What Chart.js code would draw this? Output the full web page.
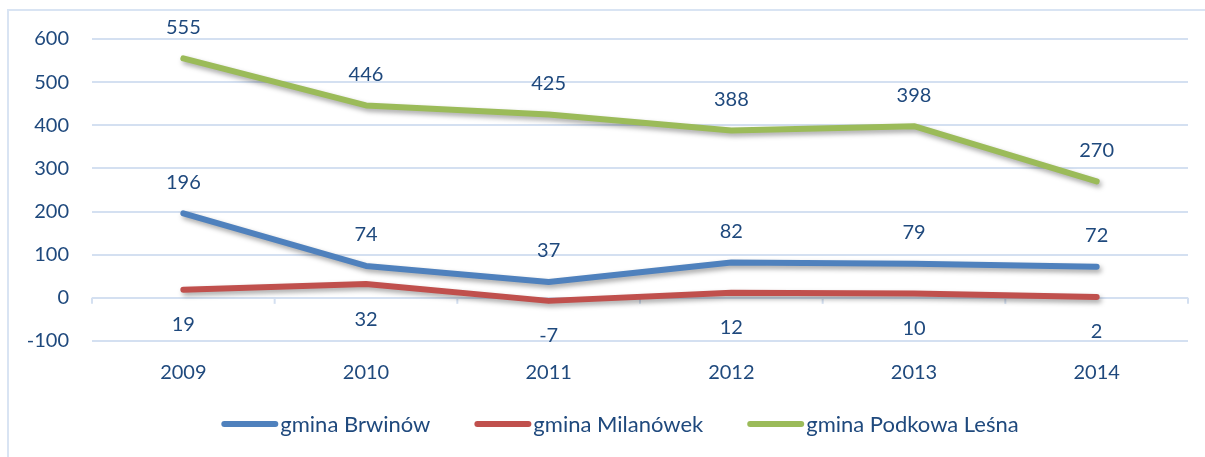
<!DOCTYPE html>
<html>
<head>
<meta charset="utf-8">
<script src="https://cdn.jsdelivr.net/npm/chart.js@4"></script>
<style>
  html, body { margin: 0; padding: 0; background: #fff; }
  #wrap { width: 1205px; height: 457px; }
</style>
</head>
<body>
<div id="wrap"><canvas id="lineChart"></canvas></div>
<script>
// dane
var years = ["2009", "2010", "2011", "2012", "2013", "2014"];
var brwinow = [196, 74, 37, 82, 79, 72];
var milanowek = [19, 32, -7, 12, 10, 2];
var podkowa = [555, 446, 425, 388, 398, 270];
var yTicks = [-100, 0, 100, 200, 300, 400, 500, 600];

var textColor = "#1F497D";
var gridColor = "#D4E0F1";
var fontFamily = "Lato, 'Open Sans', sans-serif";

// ramka, kreski osi przy zerze, cień linii
var framePlugin = {
  id: "frame",
  beforeDraw: function (chart) {
    var ctx = chart.ctx;
    ctx.save();
    ctx.strokeStyle = "#D9E4F3";
    ctx.lineWidth = 2;
    ctx.beginPath();
    ctx.moveTo(8, chart.height + 5);
    ctx.lineTo(8, 10);
    ctx.lineTo(chart.width + 5, 10);
    ctx.stroke();
    ctx.restore();
  },
  beforeDatasetsDraw: function (chart) {
    var ctx = chart.ctx;
    var x = chart.scales.x;
    var y0 = chart.scales.y.getPixelForValue(0);
    var half = (x.getPixelForValue(1) - x.getPixelForValue(0)) / 2;
    ctx.save();
    ctx.strokeStyle = gridColor;
    ctx.lineWidth = 2;
    for (var i = 0; i <= years.length; i++) {
      var px = x.getPixelForValue(i) - half;
      ctx.beginPath();
      ctx.moveTo(px, y0);
      ctx.lineTo(px, y0 + 6);
      ctx.stroke();
    }
    ctx.restore();
  },
  beforeDatasetDraw: function (chart) {
    var ctx = chart.ctx;
    ctx.save();
    ctx.shadowColor = "rgba(0, 0, 0, 0.35)";
    ctx.shadowBlur = 5;
    ctx.shadowOffsetX = 2;
    ctx.shadowOffsetY = 3;
  },
  afterDatasetDraw: function (chart) {
    chart.ctx.restore();
  },
};

// etykiety wartości
var labelsPlugin = {
  id: "valueLabels",
  afterDatasetsDraw: function (chart) {
    var ctx = chart.ctx;
    ctx.save();
    ctx.font = "20px " + fontFamily;
    ctx.fillStyle = textColor;
    ctx.textAlign = "center";
    ctx.textBaseline = "middle";
    chart.data.datasets.forEach(function (ds, di) {
      var meta = chart.getDatasetMeta(di);
      meta.data.forEach(function (pt, i) {
        var off = ds.labelBelow ? 35 : -31;
        ctx.fillText(String(ds.data[i]), pt.x, pt.y + off);
      });
    });
    ctx.restore();
  },
};

// legenda
var legendPlugin = {
  id: "customLegend",
  afterDraw: function (chart) {
    var ctx = chart.ctx;
    var boxW = 57, boxH = 6, gapText = 2, gapItem = 44;
    ctx.save();
    ctx.font = "22px " + fontFamily;
    var total = 0;
    var widths = chart.data.datasets.map(function (ds) {
      var w = boxW + gapText + ctx.measureText(ds.label).width;
      total += w;
      return w;
    });
    total += gapItem * (widths.length - 1);
    var x = 620 - total / 2;
    var yc = 424;
    chart.data.datasets.forEach(function (ds, i) {
      ctx.strokeStyle = ds.borderColor;
      ctx.lineWidth = boxH;
      ctx.lineCap = "round";
      ctx.beginPath();
      ctx.moveTo(x + boxH / 2, yc);
      ctx.lineTo(x + boxW - boxH / 2, yc);
      ctx.stroke();
      ctx.fillStyle = textColor;
      ctx.textBaseline = "middle";
      ctx.textAlign = "left";
      ctx.fillText(ds.label, x + boxW + gapText, yc + 1);
      x += widths[i] + gapItem;
    });
    ctx.restore();
  },
};

var ctx = document.getElementById("lineChart").getContext("2d");
var lineChart = new Chart(ctx, {
  type: "line",
  data: {
    labels: years,
    datasets: [
      {
        label: "gmina Brwinów",
        data: brwinow,
        borderColor: "#4F81BD",
        labelBelow: false,
      },
      {
        label: "gmina Milanówek",
        data: milanowek,
        borderColor: "#C0504D",
        labelBelow: true,
      },
      {
        label: "gmina Podkowa Leśna",
        data: podkowa,
        borderColor: "#9BBB59",
        labelBelow: false,
      },
    ],
  },
  options: {
    responsive: true,
    maintainAspectRatio: false,
    animation: false,
    devicePixelRatio: 1,
    layout: {
      padding: { top: 39, right: 17, bottom: 0, left: 0 },
    },
    elements: {
      line: {
        borderWidth: 6,
        tension: 0,
        borderCapStyle: "round",
        borderJoinStyle: "round",
        fill: false,
      },
      point: { radius: 0, hoverRadius: 0 },
    },
    plugins: {
      legend: { display: false },
      tooltip: { enabled: false },
    },
    scales: {
      x: {
        offset: true,
        grid: { display: false, drawTicks: false },
        border: { display: false },
        ticks: {
          color: textColor,
          font: { family: fontFamily, size: 20 },
          padding: 20,
        },
        afterFit: function (scale) {
          scale.height = 116;
        },
      },
      y: {
        min: -100,
        max: 600,
        afterBuildTicks: function (scale) {
          scale.ticks = yTicks.map(function (v) {
            return { value: v };
          });
        },
        grid: { color: gridColor, lineWidth: 2, drawTicks: false },
        border: { display: false },
        ticks: {
          color: textColor,
          font: { family: fontFamily, size: 20 },
          padding: 23,
        },
        afterFit: function (scale) {
          scale.width = 92;
        },
      },
    },
  },
  plugins: [framePlugin, labelsPlugin, legendPlugin],
});
</script>
</body>
</html>
